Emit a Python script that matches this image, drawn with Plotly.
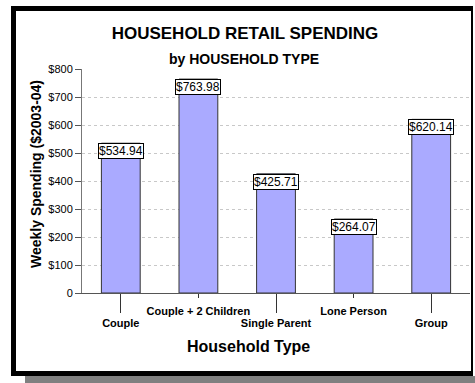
import plotly.graph_objects as go

categories = ["Couple", "Couple + 2 Children", "Single Parent", "Lone Person", "Group"]
spending = [534.94, 763.98, 425.71, 264.07, 620.14]
y_tick_vals = [0, 100, 200, 300, 400, 500, 600, 700, 800]
y_tick_text = ["0", "$100", "$200", "$300", "$400", "$500", "$600", "$700", "$800"]

W, H = 475, 383
L, R, T, B = 82, 470, 69, 293  # plot area in px


def px(x):
    return (x - L) / (R - L)


def py(y):
    return (B - y) / (B - T)


FONT = "Arial, Liberation Sans, sans-serif"
idx = list(range(len(categories)))

fig = go.Figure()
fig.add_trace(go.Bar(
    x=idx, y=spending, width=0.5,
    marker=dict(color="#AAAAFF", line=dict(color="#333333", width=1)),
    hoverinfo="skip", showlegend=False,
))

for i, v in zip(idx, spending):
    fig.add_annotation(
        x=i, y=v, xref="x", yref="y", yanchor="top", showarrow=False,
        text=f"${v:,.2f}", font=dict(family=FONT, size=12, color="black"),
        bgcolor="white", bordercolor="black", borderwidth=1, borderpad=0,
    )

even = [i for i in idx if i % 2 == 0]
odd = [i for i in idx if i % 2 == 1]

fig.update_layout(
    width=W, height=H,
    margin=dict(l=L, r=W - R, t=T, b=H - B),
    paper_bgcolor="white", plot_bgcolor="white",
    font=dict(family=FONT, color="black"),
    title=dict(text="<b>HOUSEHOLD RETAIL SPENDING</b>", x=245 / W, xanchor="center",
               xref="container", y=1 - 33 / H, yanchor="middle", yref="container",
               font=dict(size=17, family=FONT, color="black")),
    xaxis=dict(range=[-0.5, len(categories) - 0.5], tickmode="array", tickvals=even,
               ticktext=[f"<b>{categories[i]}</b>" for i in even], ticks="outside", ticklen=19,
               tickcolor="#333333", tickwidth=1, showline=True, linecolor="#555555",
               linewidth=1, showgrid=False, zeroline=False, ticklabelstandoff=1,
               tickfont=dict(size=11, family=FONT, color="black")),
    xaxis2=dict(range=[-0.5, len(categories) - 0.5], overlaying="x", anchor="y", side="bottom",
                tickmode="array", tickvals=odd, ticktext=[f"<b>{categories[i]}</b>" for i in odd],
                ticks="outside", ticklen=4, tickcolor="#333333", tickwidth=1,
                showline=False, showgrid=False, zeroline=False, ticklabelstandoff=4,
                tickfont=dict(size=11, family=FONT, color="black")),
    yaxis=dict(range=[0, 800], tickmode="array", tickvals=y_tick_vals, ticktext=y_tick_text,
               ticks="outside", ticklen=6, tickcolor="#555555", showline=True,
               linecolor="#777777", linewidth=1, showgrid=True, gridcolor="#c8c8c8",
               griddash="dot", gridwidth=1, zeroline=False,
               tickfont=dict(size=11, family=FONT, color="black")),
)

fig.add_trace(go.Scatter(x=idx, y=spending, xaxis="x2", mode="markers",
                         marker=dict(opacity=0), hoverinfo="skip", showlegend=False))

fig.add_annotation(text="<b>by HOUSEHOLD TYPE</b>", xref="paper", yref="paper",
                   x=px(244), y=py(59), xanchor="center", yanchor="middle",
                   showarrow=False, font=dict(size=14, family=FONT, color="black"))
fig.add_annotation(text="<b>Household Type</b>", xref="paper", yref="paper",
                   x=px(248), y=py(346), xanchor="center", yanchor="middle",
                   showarrow=False, font=dict(size=16, family=FONT, color="black"))
fig.add_annotation(text="<b>Weekly Spending ($2003-04)</b>", xref="paper", yref="paper",
                   x=px(36), y=py(174), xanchor="center", yanchor="middle", textangle=-90,
                   showarrow=False, font=dict(size=14, family=FONT, color="black"))

# frame and shadow
rects = [
    (25, 376, 475, 383, "#808080"),
    (11, 6, 16, 376, "black"),
    (11, 6, 473, 11, "black"),
    (11, 371, 473, 376, "black"),
    (471, 6, 473, 376, "black"),
]
for x0, y0, x1, y1, c in rects:
    fig.add_shape(type="rect", xref="paper", yref="paper", x0=px(x0), x1=px(x1),
                  y0=py(y1), y1=py(y0), fillcolor=c, line=dict(width=0), layer="above")

fig.write_html("out.html")
